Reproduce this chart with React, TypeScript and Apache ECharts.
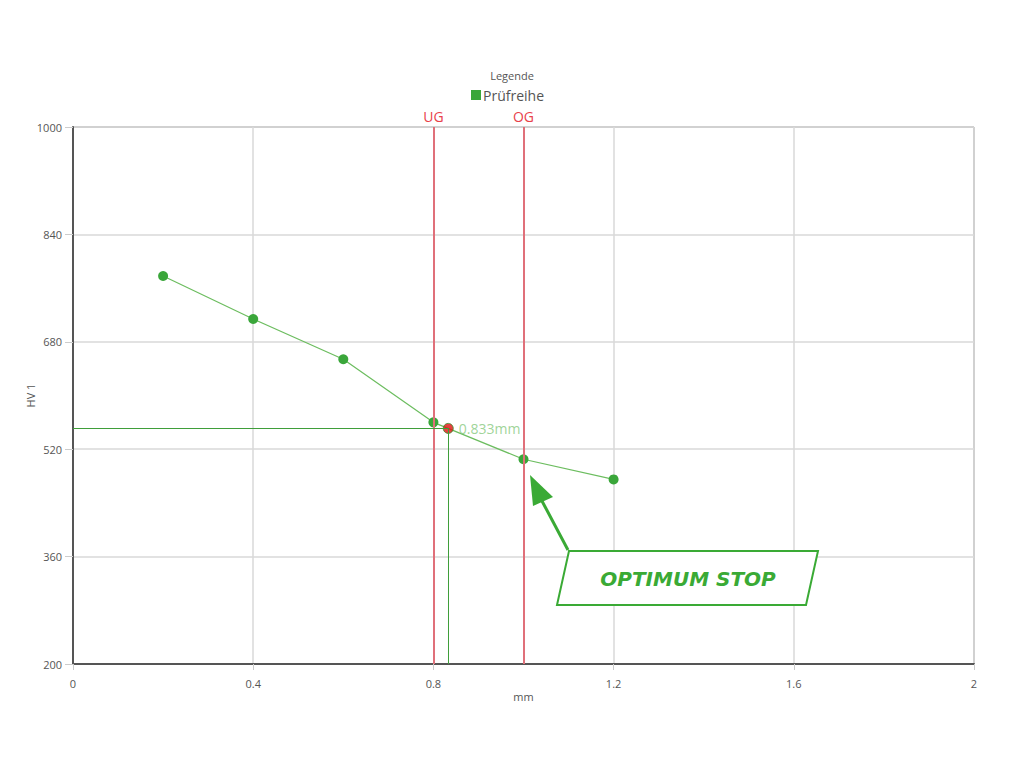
import React, { useEffect, useRef } from "react";
import * as echarts from "echarts";

// Test series: indentation depth (mm) vs hardness HV 1
const depthMm = [0.2, 0.4, 0.6, 0.8, 1.0, 1.2];
const hardnessHv = [778, 714, 654, 560, 505, 475];

// Limits (lower / upper) and the computed crossing point
const lowerLimit = 0.8;
const upperLimit = 1.0;
const crossDepth = 0.833;
const crossHardness = 551;

const xTicks = { min: 0, max: 2, interval: 0.4 };
const yTicks = { min: 200, max: 1000, interval: 160 };

const FONT = "'Open Sans', Lato, sans-serif";

export default function App() {
  const ref = useRef<HTMLDivElement>(null);

  useEffect(() => {
    if (!ref.current) return;
    const chart = echarts.init(ref.current, undefined, { renderer: "svg" });

    const lineGreen = "#6cbd5f";
    const dotGreen = "#3aa63a";
    const crossGreen = "#3f9e3a";
    const limitRed = "#e0707a";

    chart.setOption({
      animation: false,
      textStyle: { fontFamily: FONT },
      title: {
        text: "Legende",
        left: "center",
        top: 65,
        textStyle: { fontSize: 11, fontWeight: "normal", color: "#555", fontFamily: FONT },
      },
      legend: {
        data: ["Prüfreihe"],
        top: 83,
        left: 466,
        icon: "rect",
        itemWidth: 10,
        itemHeight: 10,
        itemGap: 4,
        textStyle: { fontSize: 14, color: "#555", fontFamily: FONT, padding: [0, 0, 0, -3] },
      },
      grid: {
        left: 73,
        right: 50,
        top: 127,
        bottom: 104,
        show: true,
        borderColor: "#777",
        borderWidth: 1,
      },
      xAxis: {
        type: "value",
        min: xTicks.min,
        max: xTicks.max,
        interval: xTicks.interval,
        name: "mm",
        nameLocation: "middle",
        nameGap: 27,
        nameMoveOverlap: false,
        nameTextStyle: { fontSize: 11, color: "#555" },
        axisLine: { show: true, lineStyle: { color: "#555", width: 2 } },
        axisTick: { show: true, length: 6, lineStyle: { color: "#ccc" } },
        axisLabel: { fontSize: 11, color: "#555", margin: 14 },
        splitLine: { show: true, lineStyle: { color: "#d9d9d9", width: 1.5 } },
      },
      yAxis: {
        type: "value",
        min: yTicks.min,
        max: yTicks.max,
        interval: yTicks.interval,
        name: "HV 1",
        nameLocation: "middle",
        nameGap: 37,
        nameMoveOverlap: false,
        nameTextStyle: { fontSize: 11, color: "#555" },
        axisLine: { show: true, lineStyle: { color: "#555", width: 2 } },
        axisTick: { show: true, length: 8, lineStyle: { color: "#ccc" } },
        axisLabel: { fontSize: 11, color: "#555", margin: 11, formatter: (v: number) => String(v) },
        splitLine: { show: true, lineStyle: { color: "#d9d9d9", width: 1.5 } },
      },
      series: [
        {
          name: "Prüfreihe",
          type: "line",
          data: depthMm.map((x, i) => [x, hardnessHv[i]]),
          symbol: "circle",
          symbolSize: 10,
          itemStyle: { color: dotGreen },
          lineStyle: { color: lineGreen, width: 1.2 },
          z: 3,
          markLine: {
            silent: true,
            symbol: "none",
            data: [
              {
                xAxis: lowerLimit,
                lineStyle: { color: limitRed, width: 2, type: "solid" },
                label: { formatter: "UG", position: "end", color: "#e8414a", fontSize: 14, distance: 4 },
              },
              {
                xAxis: upperLimit,
                lineStyle: { color: limitRed, width: 2, type: "solid" },
                label: { formatter: "OG", position: "end", color: "#e8414a", fontSize: 14, distance: 4 },
              },
              [
                { coord: [xTicks.min, crossHardness], lineStyle: { color: crossGreen, width: 1, type: "solid" }, label: { show: false } },
                { coord: [crossDepth, crossHardness] },
              ],
              [
                { coord: [crossDepth, crossHardness], lineStyle: { color: crossGreen, width: 1, type: "solid" }, label: { show: false } },
                { coord: [crossDepth, yTicks.min] },
              ],
            ],
          },
        },
        {
          name: "Schnittpunkt",
          type: "scatter",
          data: [[crossDepth, crossHardness]],
          symbol: "circle",
          symbolSize: 10,
          itemStyle: { color: "#e01010", borderColor: "#3a8a2a", borderWidth: 1 },
          z: 4,
          label: {
            show: true,
            position: "right",
            distance: 5,
            formatter: () => `${crossDepth}mm`,
            color: "#86c97d",
            fontSize: 14,
            fontFamily: FONT,
          },
        },
      ],
      graphic: [
        {
          type: "polygon",
          shape: { points: [[569, 551], [818, 551], [806, 605], [557, 605]] },
          style: { fill: "#fff", stroke: "#3aaa35", lineWidth: 2 },
          z: 10,
        },
        {
          type: "line",
          shape: { x1: 568, y1: 550, x2: 542, y2: 501 },
          style: { stroke: "#3aaa35", lineWidth: 3 },
          z: 10,
        },
        {
          type: "polygon",
          shape: { points: [[530, 475], [553, 497], [533, 506]] },
          style: { fill: "#3aaa35" },
          z: 10,
        },
        {
          type: "text",
          x: 688,
          y: 579,
          style: {
            text: "OPTIMUM STOP",
            fill: "#3aaa35",
            font: "italic bold 20px 'DejaVu Sans', sans-serif",
            align: "center",
            verticalAlign: "middle",
          },
          z: 11,
        },
      ],
    });

    return () => chart.dispose();
  }, []);

  return (
    <div
      ref={ref}
      style={{ position: "fixed", left: 0, top: 0, width: 1024, height: 768, background: "#fff" }}
    />
  );
}
